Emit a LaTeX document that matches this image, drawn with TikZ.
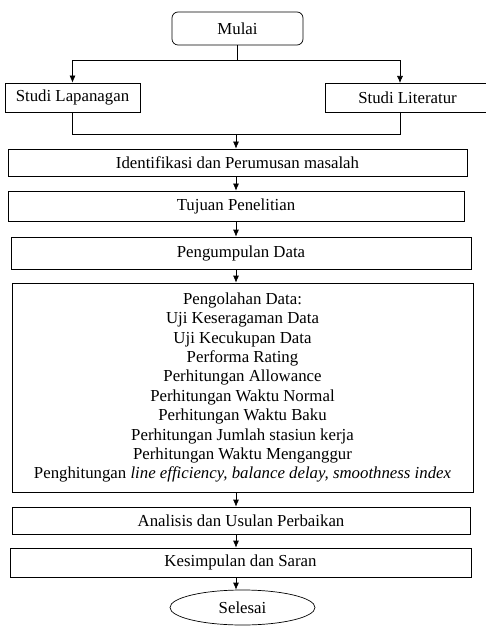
\documentclass[tikz,border=0pt]{standalone}
\usepackage{fontspec}
\setmainfont{Liberation Serif}
\usetikzlibrary{arrows.meta,shapes.geometric}

\tikzset{
  kotak/.style = {draw, rectangle, inner sep = 0pt, align = center},
  panah/.style = {-{Latex[length = 7pt, width = 6pt]}}
}

\begin{document}
\begin{tikzpicture}[x = 1pt, y = -1pt, line width = 0.7pt, font = \fontsize{16.8}{19.4}\selectfont]
\useasboundingbox (0,0) rectangle (486,628);

\node [kotak, rounded corners = 6pt, minimum width = 131pt, minimum height = 33pt] (mulai) at (237.5,28.5) {Mulai};
\node [kotak, minimum width = 135pt, minimum height = 29pt] (lapangan) at (72.5,97.5) {Studi Lapanagan};
\node [kotak, minimum width = 165pt, minimum height = 29pt] (literatur) at (407.5,97.5) {Studi Literatur};
\node [kotak, minimum width = 459pt, minimum height = 27pt] (identifikasi) at (237.5,162.5) {Identifikasi dan Perumusan masalah};
\node [kotak, minimum width = 456pt, minimum height = 30pt] (tujuan) at (236,206) {Tujuan Penelitian};
\node [kotak, minimum width = 460pt, minimum height = 32pt] (kumpul) at (241,253) {Pengumpulan Data};
\node [kotak, minimum width = 461pt, minimum height = 209pt] (olah) at (242.5,387.5) {Pengolahan Data:\\
  Uji Keseragaman Data\\
  Uji Kecukupan Data\\
  Performa Rating\\
  Perhitungan Allowance\\
  Perhitungan Waktu Normal\\
  Perhitungan Waktu Baku\\
  Perhitungan Jumlah stasiun kerja\\
  Perhitungan Waktu Menganggur\\
  Penghitungan \textit{line efficiency, balance delay, smoothness index}};
\node [kotak, minimum width = 458pt, minimum height = 27pt] (analisis) at (241,520.5) {Analisis dan Usulan Perbaikan};
\node [kotak, minimum width = 461pt, minimum height = 29pt] (simpul) at (240.5,562.5) {Kesimpulan dan Saran};
\node [draw, ellipse, inner sep = 0pt, minimum width = 145pt, minimum height = 35pt] (selesai) at (242.5,607.5) {Selesai};

\coordinate (cabang) at (237.5,60);
\coordinate (masuklit) at (400,83);
\coordinate (keluarlit) at (400,112);
\coordinate (gabung) at (236,134);

\draw (mulai) -- (cabang);
\draw [panah] (cabang) -| (lapangan.north);
\draw [panah] (cabang) -| (masuklit);
\draw (lapangan.south) |- (gabung);
\draw (keluarlit) |- (gabung);
\draw [panah] (gabung) -- (gabung |- identifikasi.north);
\draw [panah] (identifikasi.south -| gabung) -- (tujuan.north -| gabung);
\draw [panah] (tujuan.south -| gabung) -- (kumpul.north -| gabung);
\draw [panah] (kumpul.south -| gabung) -- (olah.north -| gabung);
\draw [panah] (olah.south -| gabung) -- (analisis.north -| gabung);
\draw [panah] (analisis.south -| gabung) -- (simpul.north -| gabung);
\draw [panah] (simpul.south -| gabung) -- (selesai.north -| gabung);
\end{tikzpicture}
\end{document}
